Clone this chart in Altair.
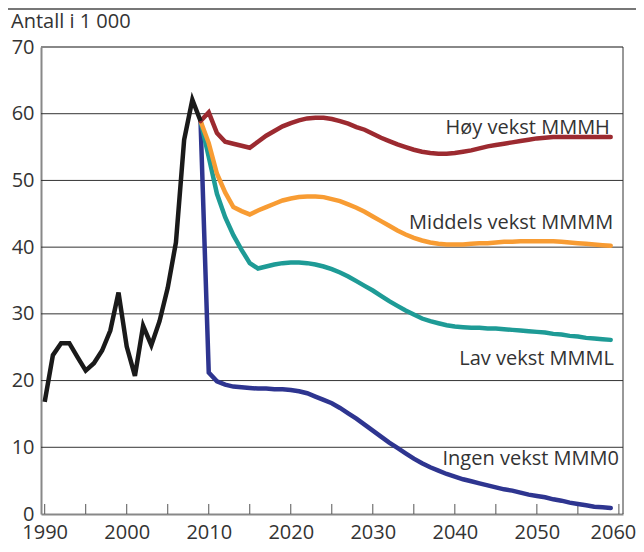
import altair as alt
import pandas as pd

# ---- data ----
hist_years = list(range(1990, 2010))
hist_values = [16.8, 23.8, 25.6, 25.6, 23.5, 21.5, 22.6, 24.5, 27.5, 33.2,
               25.1, 20.7, 28.2, 25.3, 28.9, 33.9, 40.7, 56.1, 62.1, 58.9]

proj_years = list(range(2009, 2060))
hoy = [58.9, 60.2, 57.1, 55.8, 55.5, 55.2, 54.9, 55.8, 56.7, 57.4,
       58.1, 58.6, 59.0, 59.3, 59.4, 59.4, 59.2, 58.9, 58.5, 58.0,
       57.6, 57.0, 56.4, 55.9, 55.4, 55.0, 54.6, 54.3, 54.1, 54.0,
       54.0, 54.1, 54.3, 54.5, 54.8, 55.1, 55.3, 55.5, 55.7, 55.9,
       56.1, 56.3, 56.4, 56.5, 56.5, 56.5, 56.5, 56.5, 56.5, 56.5, 56.5]
middels = [58.9, 55.6, 51.0, 48.2, 46.0, 45.4, 44.9, 45.5, 46.0, 46.5,
           47.0, 47.3, 47.5, 47.6, 47.6, 47.5, 47.2, 46.9, 46.4, 45.9,
           45.3, 44.6, 43.9, 43.2, 42.5, 41.9, 41.4, 41.0, 40.7, 40.5,
           40.4, 40.4, 40.4, 40.5, 40.6, 40.6, 40.7, 40.8, 40.8, 40.9,
           40.9, 40.9, 40.9, 40.9, 40.8, 40.7, 40.6, 40.5, 40.4, 40.3, 40.2]
lav = [58.9, 53.5, 48.0, 44.5, 41.8, 39.6, 37.6, 36.8, 37.1, 37.4,
       37.6, 37.7, 37.7, 37.6, 37.4, 37.1, 36.7, 36.2, 35.6, 34.9,
       34.2, 33.5, 32.7, 31.9, 31.2, 30.5, 29.9, 29.3, 28.9, 28.6,
       28.3, 28.1, 28.0, 27.9, 27.9, 27.8, 27.8, 27.7, 27.6, 27.5,
       27.4, 27.3, 27.2, 27.0, 26.9, 26.7, 26.6, 26.4, 26.3, 26.2, 26.1]
ingen = [58.9, 21.2, 19.9, 19.4, 19.1, 19.0, 18.9, 18.8, 18.8, 18.7,
         18.7, 18.6, 18.4, 18.1, 17.6, 17.1, 16.6, 15.9, 15.1, 14.3,
         13.4, 12.5, 11.6, 10.7, 9.9, 9.1, 8.3, 7.6, 7.0, 6.5,
         6.0, 5.6, 5.2, 4.9, 4.6, 4.3, 4.0, 3.7, 3.5, 3.2,
         2.9, 2.7, 2.5, 2.2, 2.0, 1.7, 1.5, 1.3, 1.1, 1.0, 0.9]

series_names = ["Ingen vekst MMM0", "Lav vekst MMML", "Middels vekst MMMM", "Høy vekst MMMH"]
series_values = [ingen, lav, middels, hoy]
series_colors = ["#2e3590", "#1e9b96", "#f89c33", "#9c2a30"]

label_x = [2060.0, 2059.4, 2059.3, 2058.9]
label_y = [7.3, 22.3, 42.7, 57.0]

grid_values = [10, 20, 30, 40, 50, 60]
tick_years = list(range(1990, 2061, 5))
ylabels = [0, 10, 20, 30, 40, 50, 60, 70]

FONT = "Open Sans"
TXT = "#333333"

# ---- frames ----
proj_rows = []
for name, vals in zip(series_names, series_values):
    for yr, v in zip(proj_years, vals):
        proj_rows.append({"year": yr, "value": v, "series": name})
proj_df = pd.DataFrame(proj_rows)
hist_df = pd.DataFrame({"year": hist_years, "value": hist_values})
label_df = pd.DataFrame({"x": label_x, "y": label_y, "text": series_names})
grid_df = pd.DataFrame({"v": grid_values})
tick_df = pd.DataFrame({"year": tick_years, "y0": [0] * len(tick_years), "y1": [1.5] * len(tick_years)})

xscale = alt.Scale(domain=[1989.55, 2060.5], nice=False, zero=False)
yscale = alt.Scale(domain=[0, 70], nice=False, zero=True)

xaxis = alt.Axis(values=tick_years, labelExpr="datum.value % 10 == 0 ? datum.value : ''",
                 ticks=False, grid=False, title=None, labelFont=FONT, labelFontSize=20,
                 labelColor=TXT, labelPadding=8, domainColor="#888888", domainWidth=2,
                 labelFlush=False, labelOverlap=False,
                 labelOffset={"condition": {"test": "datum.value == 2060", "value": -6}, "value": 0})
yaxis = alt.Axis(values=ylabels, ticks=False, grid=False, title=None, labelFont=FONT,
                 labelFontSize=20, labelColor=TXT, labelPadding=7, domainColor="#888888",
                 domainWidth=2)

grid = alt.Chart(grid_df).mark_rule(color="#333333", strokeWidth=1).encode(
    y=alt.Y("v:Q", scale=yscale, axis=yaxis)
)
top = alt.Chart(pd.DataFrame({"v": [70]})).mark_rule(color="#888888", strokeWidth=2).encode(
    y=alt.Y("v:Q", scale=yscale)
)
right = alt.Chart(pd.DataFrame({"x": [2060.5]})).mark_rule(color="#333333", strokeWidth=1).encode(
    x=alt.X("x:Q", scale=xscale)
)
ticks = alt.Chart(tick_df).mark_rule(color="#555555", strokeWidth=1).encode(
    x=alt.X("year:Q", scale=xscale, axis=xaxis),
    y=alt.Y("y0:Q", scale=yscale),
    y2="y1:Q",
)
proj = alt.Chart(proj_df).mark_line(strokeWidth=4.5, strokeCap="round", strokeJoin="miter").encode(
    x=alt.X("year:Q", scale=xscale),
    y=alt.Y("value:Q", scale=yscale),
    color=alt.Color("series:N", scale=alt.Scale(domain=series_names, range=series_colors), legend=None),
    order=alt.Order("year:Q"),
)
hist = alt.Chart(hist_df).mark_line(strokeWidth=4.5, color="#1a1a1a", strokeJoin="miter").encode(
    x=alt.X("year:Q", scale=xscale),
    y=alt.Y("value:Q", scale=yscale),
)
labels = alt.Chart(label_df).mark_text(font=FONT, fontSize=20, color=TXT, align="right",
                                       baseline="alphabetic").encode(
    x=alt.X("x:Q", scale=xscale),
    y=alt.Y("y:Q", scale=yscale),
    text="text:N",
)
title = alt.Chart(pd.DataFrame({"t": ["Antall i 1 000"]})).mark_text(
    font=FONT, fontSize=20, color=TXT, align="left", baseline="alphabetic"
).encode(x=alt.value(-30), y=alt.value(-19), text="t:N")
topline = alt.Chart(pd.DataFrame({"a": [0]})).mark_rule(color="#777777", strokeWidth=2).encode(
    x=alt.value(-40), x2=alt.value(600), y=alt.value(-38)
)

chart = alt.layer(grid, top, right, ticks, proj, hist, labels, title, topline).properties(
    width=582, height=467,
    padding={"left": 33, "top": 39, "right": 13, "bottom": 30},
    autosize=alt.AutoSizeParams(type="none"),
).configure_view(strokeWidth=0)

chart.save("out.html", embed_options={"renderer": "svg", "actions": False})
